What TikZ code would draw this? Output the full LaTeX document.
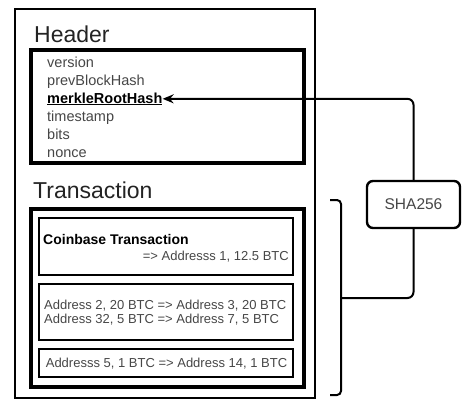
\documentclass[tikz,border=0pt]{standalone}
\usepackage{fontspec}
\setmainfont{Liberation Sans}
\usetikzlibrary{arrows.meta,positioning}
\definecolor{fieldgray}{RGB}{70,70,70}
\definecolor{headgray}{RGB}{35,35,35}

\begin{document}
\begin{tikzpicture}[x=1pt,y=-1pt]
\tikzset{
  outerbox/.style={draw,line width=2.8pt,inner sep=0pt},
  groupbox/.style={draw,line width=3.4pt,inner sep=0pt},
  txbox/.style={draw,line width=1.8pt,inner sep=0pt},
  heading/.style={anchor=base west,inner sep=0pt,text=headgray,font=\fontsize{23}{24}\selectfont},
  field/.style={anchor=base west,inner sep=0pt,text=fieldgray,font=\fontsize{14.5}{16}\selectfont},
  txtext/.style={inner sep=0pt,text=fieldgray,font=\fontsize{13}{13.5}\selectfont},
  hashbox/.style={draw,line width=2.4pt,rounded corners=6pt,minimum width=93pt,minimum height=47pt,
    text=fieldgray,font=\fontsize{15.5}{17}\selectfont},
  link/.style={line width=2pt,rounded corners=6pt},
  bracket/.style={line width=2pt,rounded corners=4pt}
}
\useasboundingbox (0,0) rectangle (462,400);
% block and its two parts
\node[outerbox,minimum width=300pt,minimum height=389pt] (block) at (165,203.5) {};
\node[heading] (t_header) at (34,42) {Header};
\node[groupbox,minimum width=273pt,minimum height=113pt] (header) at (167.5,106.5) {};
\node[field] (f_version) at (47,67) {version};
\node[field] (f_prev) at (47,85) {prevBlockHash};
\node[field,text=black] (f_merkle) at (47,103) {\textbf{\underline{merkleRootHash}}};
\node[field] (f_time) at (47,121) {timestamp};
\node[field] (f_bits) at (47,139) {bits};
\node[field] (f_nonce) at (47,157) {nonce};
\node[heading] (t_tx) at (33,198) {Transaction};
\node[groupbox,minimum width=273pt,minimum height=178pt] (txs) at (167.5,298) {};
% transactions
\node[txbox,minimum width=254pt,minimum height=57pt] (tx1) at (166,246.5) {};
\node[txtext,anchor=base west,text=black,font=\fontsize{14}{15}\selectfont] (tx1_a) at (43,244) {\textbf{Coinbase Transaction}};
\node[txtext,anchor=base east] (tx1_b) at (289,260) {=> Addresss 1, 12.5 BTC};
\node[txbox,minimum width=254pt,minimum height=56pt] (tx2) at (166,312) {};
\node[txtext,anchor=west,align=left] (tx2_a) at (44,312.5) {Address 2, 20 BTC => Address 3, 20 BTC\\Address 32, 5 BTC => Address 7, 5 BTC};
\node[txbox,minimum width=254pt,minimum height=28pt] (tx3) at (166,363) {};
\node[txtext,anchor=base] (tx3_a) at (166.5,367) {Addresss 5, 1 BTC => Address 14, 1 BTC};
% hashing
\node[hashbox] (sha) at (413.5,204.5) {SHA256};
\coordinate (br_top) at (330,200);
\coordinate (br_tip) at (341,298);
\coordinate (br_bot) at (330,395);
\draw[bracket] (br_top) -- (br_top -| br_tip) -- (br_tip) -- (br_bot -| br_tip) -- (br_bot);
\draw[link] (sha.south) |- (br_tip);
\draw[link,-{Stealth[length=11pt,width=9pt]}] (sha.north) |- (f_merkle.east);
\end{tikzpicture}
\end{document}
